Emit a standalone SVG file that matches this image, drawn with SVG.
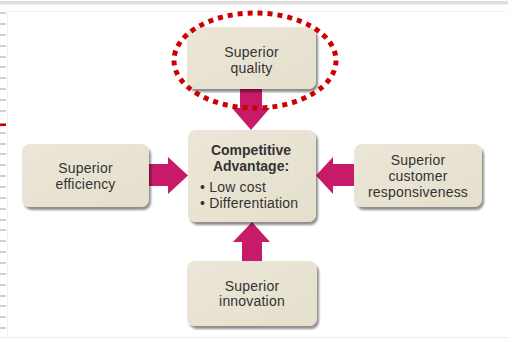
<svg xmlns="http://www.w3.org/2000/svg" width="508" height="341" viewBox="0 0 508 341">
  <style>
    .box { fill: url(#boxFill); filter: url(#shadow); }
    .label { font-family: "Liberation Sans", Arial, sans-serif; font-size: 14px; fill: #333333; text-anchor: middle; letter-spacing: 0.2px; }
    .bold { font-weight: bold; letter-spacing: 0; }
    .bullet { text-anchor: start; }
    .arrow { fill: #c71b6a; }
    .tick { fill: #d2d2d2; }
  </style>
  <defs>
    <linearGradient id="boxFill" x1="0" y1="0" x2="1" y2="1">
      <stop offset="0" stop-color="#ebe6d8"/>
      <stop offset="1" stop-color="#e5dfcc"/>
    </linearGradient>
    <filter id="shadow" x="-10%" y="-10%" width="125%" height="130%">
      <feGaussianBlur in="SourceAlpha" stdDeviation="1.3"/>
      <feOffset dx="2" dy="2.5" result="blur"/>
      <feComponentTransfer><feFuncA type="linear" slope="0.45"/></feComponentTransfer>
      <feMerge><feMergeNode/><feMergeNode in="SourceGraphic"/></feMerge>
    </filter>
  </defs>

  <!-- page frame -->
  <rect x="0" y="0" width="508" height="341" fill="#ffffff"/>
  <rect x="0" y="1" width="508" height="3.5" fill="#dedede"/>
  <line x1="7.5" y1="11" x2="7.5" y2="337" stroke="#f2f2f2" stroke-width="1"/>
  <line x1="7" y1="11.5" x2="508" y2="11.5" stroke="#f4f4f4" stroke-width="1"/>
  <line x1="0" y1="337.5" x2="508" y2="337.5" stroke="#ececec" stroke-width="1"/>
  <g id="margin-ticks">
    <rect class="tick" x="0" y="12" width="6" height="2"/>
    <rect class="tick" x="0" y="23" width="6" height="2"/>
    <rect class="tick" x="0" y="34" width="6" height="2"/>
    <rect class="tick" x="0" y="45" width="6" height="2"/>
    <rect class="tick" x="0" y="56" width="6" height="2"/>
    <rect class="tick" x="0" y="66" width="6" height="2"/>
    <rect class="tick" x="0" y="77" width="6" height="2"/>
    <rect class="tick" x="0" y="88" width="6" height="2"/>
    <rect class="tick" x="0" y="99" width="6" height="2"/>
    <rect class="tick" x="0" y="110" width="6" height="2"/>
    <rect class="tick" x="0" y="132" width="6" height="2"/>
    <rect class="tick" x="0" y="143" width="6" height="2"/>
    <rect class="tick" x="0" y="153" width="6" height="2"/>
    <rect class="tick" x="0" y="164" width="6" height="2"/>
    <rect class="tick" x="0" y="175" width="6" height="2"/>
    <rect class="tick" x="0" y="186" width="6" height="2"/>
    <rect class="tick" x="0" y="197" width="6" height="2"/>
    <rect class="tick" x="0" y="208" width="6" height="2"/>
    <rect class="tick" x="0" y="219" width="6" height="2"/>
    <rect class="tick" x="0" y="229" width="6" height="2"/>
    <rect class="tick" x="0" y="240" width="6" height="2"/>
    <rect class="tick" x="0" y="251" width="6" height="2"/>
    <rect class="tick" x="0" y="262" width="6" height="2"/>
    <rect class="tick" x="0" y="273" width="6" height="2"/>
    <rect class="tick" x="0" y="284" width="6" height="2"/>
    <rect class="tick" x="0" y="295" width="6" height="2"/>
    <rect class="tick" x="0" y="305" width="6" height="2"/>
    <rect class="tick" x="0" y="316" width="6" height="2"/>
    <rect class="tick" x="0" y="327" width="6" height="2"/>
    <rect x="0" y="123.5" width="6" height="2.5" fill="#c00000"/>
  </g>

  <!-- connectors: block arrows pointing into the centre box -->
  <g id="connectors">
    <path class="arrow" d="M240,89 H262 V108 H270 L251,130 L232,108 H240 Z"/>
    <path class="arrow" d="M149,164 H168 V157 L188,175.5 L168,194 V186 H149 Z"/>
    <path class="arrow" d="M354,164 H333 V157 L316,175.5 L333,194 V186 H354 Z"/>
    <path class="arrow" d="M242,261 V242 H233 L252,222 L270,242 H262 V261 Z"/>
  </g>

  <g id="quality">
    <rect class="box" x="187" y="27" width="129" height="62" rx="8"/>
    <text class="label" x="251.5" y="57">Superior</text>
    <text class="label" x="251.5" y="73">quality</text>
  </g>

  <g id="efficiency">
    <rect class="box" x="22" y="144" width="127" height="63" rx="8"/>
    <text class="label" x="85.5" y="173">Superior</text>
    <text class="label" x="85.5" y="189">efficiency</text>
  </g>

  <g id="advantage">
    <rect class="box" x="188" y="130" width="128" height="92" rx="8"/>
    <text class="label bold" x="251" y="155">Competitive</text>
    <text class="label bold" x="251" y="171">Advantage:</text>
    <text class="label bullet" x="200" y="192">• Low cost</text>
    <text class="label bullet" x="200" y="208">• Differentiation</text>
  </g>

  <g id="responsiveness">
    <rect class="box" x="354" y="144" width="128" height="63" rx="8"/>
    <text class="label" x="418" y="165">Superior</text>
    <text class="label" x="418" y="181">customer</text>
    <text class="label" x="418" y="197">responsiveness</text>
  </g>

  <g id="innovation">
    <rect class="box" x="187" y="261" width="130" height="65" rx="8"/>
    <text class="label" x="252" y="291">Superior</text>
    <text class="label" x="252" y="306">innovation</text>
  </g>

  <!-- dotted highlight around the quality box -->
  <g id="highlight">
    <ellipse cx="255" cy="60.5" rx="81" ry="47.5" fill="none" stroke="#cc0000" stroke-width="5" stroke-dasharray="5 5"/>
  </g>
</svg>
